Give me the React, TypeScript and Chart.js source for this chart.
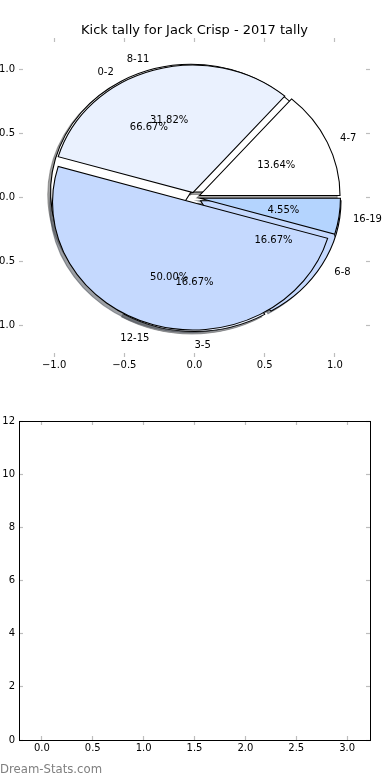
import React, { useEffect, useRef } from 'react';
import { Chart, registerables } from 'chart.js';

Chart.register(...registerables);

// ---------- data ----------
const TITLE = 'Kick tally for Jack Crisp - 2017 tally';
const PIE_A_LABELS = ['4-7', '8-11', '12-15', '16-19'];
const PIE_A_VALUES = [3, 7, 11, 1];
const PIE_A_EXPLODE = [0.04, 0.04, 0.04, 0.04];
const PIE_B_LABELS = ['0-2', '3-5', '6-8'];
const PIE_B_VALUES = [4, 1, 1];
const PIE_B_EXPLODE = [0.05, 0.05, 0.05];
const SLICE_COLORS = ['#ffffff', '#eaf1fe', '#c5d9fe', '#b4d4fe'];
const PIE_TICKS = [-1, -0.5, 0, 0.5, 1];
const PIE_LIM = 1.25;
const BOTTOM_X_TICKS = [0, 0.5, 1, 1.5, 2, 2.5, 3];
const BOTTOM_Y_TICKS = [0, 2, 4, 6, 8, 10, 12];
const BOTTOM_X_RANGE = [-0.225, 3.225];
const BOTTOM_Y_RANGE = [0, 12];
const WATERMARK = 'Dream-Stats.com';

// ---------- style ----------
const FONT = "'DejaVu Sans', sans-serif";
const TICK_COLOR = '#bdbdbd';
const W = 390;
const TOP_H = 400;
const BOT_H = 380;
const AX_LEFT = 19;
const AX_RIGHT = 370;
const TOP_AX_TOP = 38;
const TOP_AX_BOTTOM = 357;
const BOT_AX_TOP = 21; // within bottom canvas (page y 421)
const BOT_AX_BOTTOM = 340; // within bottom canvas (page y 740)
const X_AXIS_H = 30;
const TEXT_DY = 1.5;

const fmt1 = (v: number) => {
  const s = Math.abs(v) < 1e-9 ? '0.0' : Number(v).toFixed(1);
  return s.replace('-', '\u2212');
};
const fmt0 = (v: number) => String(Math.round(v)).replace('-', '\u2212');

function makeAxis(
  axis: 'x' | 'y',
  position: string,
  range: number[],
  ticks: number[],
  fmt: (v: number) => string,
  showLabels: boolean,
  size: number,
  border: boolean
) {
  return {
    type: 'linear',
    axis,
    position,
    min: range[0],
    max: range[1],
    afterBuildTicks: (s: any) => {
      s.ticks = ticks.map((v) => ({ value: v }));
    },
    afterFit: (s: any) => {
      if (axis === 'x') s.height = size;
      else s.width = size;
    },
    grid: {
      display: true,
      drawOnChartArea: false,
      drawTicks: true,
      tickLength: -4,
      tickColor: TICK_COLOR,
      tickWidth: 1.2,
      color: TICK_COLOR,
    },
    border: { display: border, color: '#000000', width: 1 },
    ticks: {
      display: showLabels,
      padding: axis === 'x' ? 6 : 8,
      color: '#000000',
      autoSkip: false,
      maxRotation: 0,
      font: { family: FONT, size: 10 },
      callback: (v: any) => fmt(Number(v)),
    },
  };
}

function shadowColor(hex: string) {
  const n = parseInt(hex.slice(1), 16);
  const r = Math.round(((n >> 16) & 255) * 0.3);
  const g = Math.round(((n >> 8) & 255) * 0.3);
  const b = Math.round((n & 255) * 0.3);
  return `rgba(${r},${g},${b},0.5)`;
}

function pieGeom(chart: any) {
  const ca = chart.chartArea;
  const cx = (ca.left + ca.right) / 2;
  const cy = (ca.top + ca.bottom) / 2;
  const R = (ca.bottom - ca.top) / 2 / PIE_LIM;
  const Rx = (ca.right - ca.left) / 2 / PIE_LIM;
  return { cx, cy, R, sx: Rx / R };
}

const PIE_INFO = [
  { labels: PIE_A_LABELS, values: PIE_A_VALUES, explode: PIE_A_EXPLODE, colors: SLICE_COLORS.slice(0, PIE_A_VALUES.length) },
  { labels: PIE_B_LABELS, values: PIE_B_VALUES, explode: PIE_B_EXPLODE, colors: SLICE_COLORS.slice(0, PIE_B_VALUES.length) },
];

const mplPiePlugin = {
  id: 'mplPie',
  afterDatasetUpdate(chart: any, args: any) {
    const { cx, cy, R } = pieGeom(chart);
    const info = PIE_INFO[args.index];
    args.meta.data.forEach((arc: any, i: number) => {
      const mid = (arc.startAngle + arc.endAngle) / 2;
      const d = info.explode[i] * R;
      arc.x = cx + Math.cos(mid) * d;
      arc.y = cy + Math.sin(mid) * d;
      arc.innerRadius = 0;
      arc.outerRadius = R;
    });
  },
  beforeDatasetsDraw(chart: any) {
    const ctx = chart.ctx;
    const { cx, cy, R, sx } = pieGeom(chart);
    ctx.save();
    ctx.translate(cx, cy);
    ctx.scale(sx, -1);
    ctx.translate(-cx, -cy);
    // shadows (below every wedge), offset (-0.02, -0.02) in data units
    const off = 0.02 * R;
    [1, 0].forEach((k) => {
      const meta = chart.getDatasetMeta(k);
      meta.data.forEach((arc: any, i: number) => {
        const x = arc.x - off;
        const y = arc.y - off;
        ctx.beginPath();
        ctx.moveTo(x, y);
        ctx.arc(x, y, arc.outerRadius, arc.startAngle, arc.endAngle);
        ctx.closePath();
        const c = shadowColor(PIE_INFO[k].colors[i]);
        ctx.fillStyle = c;
        ctx.fill();
        ctx.strokeStyle = c;
        ctx.lineWidth = 1;
        ctx.stroke();
      });
    });
  },
  afterDatasetsDraw(chart: any) {
    const ctx = chart.ctx;
    ctx.restore();
    const { cx, cy, R, sx } = pieGeom(chart);
    ctx.save();
    ctx.fillStyle = '#000000';
    ctx.font = `10px ${FONT}`;
    ctx.textBaseline = 'middle';
    [1, 0].forEach((k) => {
      const info = PIE_INFO[k];
      const total = info.values.reduce((a, b) => a + b, 0);
      const meta = chart.getDatasetMeta(k);
      meta.data.forEach((arc: any, i: number) => {
        const mid = (arc.startAngle + arc.endAngle) / 2;
        const toScreen = (dist: number) => {
          const px = arc.x + Math.cos(mid) * R * dist;
          const py = arc.y + Math.sin(mid) * R * dist;
          return [cx + sx * (px - cx), cy - (py - cy) + TEXT_DY];
        };
        const [lx, ly] = toScreen(1.1);
        ctx.textAlign = lx >= cx - 0.5 ? 'left' : 'right';
        ctx.fillText(info.labels[i], lx, ly);
        const [tx, ty] = toScreen(0.6);
        ctx.textAlign = 'center';
        ctx.fillText(((info.values[i] / total) * 100).toFixed(2) + '%', tx, ty);
      });
    });
    ctx.restore();
  },
};

export default function App() {
  const axRef = useRef<HTMLCanvasElement>(null);
  const pieRef = useRef<HTMLCanvasElement>(null);
  const botRef = useRef<HTMLCanvasElement>(null);

  useEffect(() => {
    const titleLine = 13 * 1.2;
    const titleTop = 22.5;
    const axesChart = new Chart(axRef.current as HTMLCanvasElement, {
      type: 'scatter',
      data: { datasets: [] },
      options: {
        animation: false,
        responsive: false,
        events: [],
        layout: {
          padding: { left: 0, right: W - AX_RIGHT, top: TOP_AX_TOP, bottom: TOP_H - TOP_AX_BOTTOM - X_AXIS_H },
        },
        plugins: { legend: { display: false }, tooltip: { enabled: false }, title: { display: false } },
        scales: {
          x: makeAxis('x', 'bottom', [-PIE_LIM, PIE_LIM], PIE_TICKS, fmt1, true, X_AXIS_H, false),
          x2: makeAxis('x', 'top', [-PIE_LIM, PIE_LIM], PIE_TICKS, fmt1, false, 0, false),
          y: makeAxis('y', 'left', [-PIE_LIM, PIE_LIM], PIE_TICKS, fmt1, true, AX_LEFT, false),
          y2: makeAxis('y', 'right', [-PIE_LIM, PIE_LIM], PIE_TICKS, fmt1, false, 0, false),
        },
      } as any,
    });

    const pieChart = new Chart(pieRef.current as HTMLCanvasElement, {
      type: 'pie',
      data: {
        labels: [...PIE_A_LABELS, ...PIE_B_LABELS],
        datasets: [
          {
            data: PIE_A_VALUES,
            backgroundColor: PIE_INFO[0].colors,
            borderColor: '#000000',
            borderWidth: 1,
            borderJoinStyle: 'miter',
          },
          {
            data: PIE_B_VALUES,
            backgroundColor: PIE_INFO[1].colors,
            borderColor: '#000000',
            borderWidth: 1,
            borderJoinStyle: 'miter',
          },
        ],
      },
      options: {
        animation: false,
        responsive: false,
        events: [],
        rotation: 90,
        layout: {
          padding: { left: AX_LEFT, right: W - AX_RIGHT, top: 0, bottom: TOP_H - TOP_AX_BOTTOM },
        },
        plugins: {
          legend: { display: false },
          tooltip: { enabled: false },
          title: {
            display: true,
            text: TITLE,
            color: '#000000',
            font: { family: FONT, size: 13, weight: 'normal' },
            padding: { top: titleTop, bottom: TOP_AX_TOP - titleTop - titleLine },
          },
        },
      } as any,
      plugins: [mplPiePlugin as any],
    });

    const bottomChart = new Chart(botRef.current as HTMLCanvasElement, {
      type: 'scatter',
      data: { datasets: [] },
      options: {
        animation: false,
        responsive: false,
        events: [],
        layout: {
          padding: { left: 0, right: W - AX_RIGHT, top: BOT_AX_TOP, bottom: BOT_H - BOT_AX_BOTTOM - X_AXIS_H },
        },
        plugins: { legend: { display: false }, tooltip: { enabled: false } },
        scales: {
          x: makeAxis('x', 'bottom', BOTTOM_X_RANGE, BOTTOM_X_TICKS, fmt1, true, X_AXIS_H, true),
          x2: makeAxis('x', 'top', BOTTOM_X_RANGE, BOTTOM_X_TICKS, fmt1, false, 0, true),
          y: makeAxis('y', 'left', BOTTOM_Y_RANGE, BOTTOM_Y_TICKS, fmt0, true, AX_LEFT, true),
          y2: makeAxis('y', 'right', BOTTOM_Y_RANGE, BOTTOM_Y_TICKS, fmt0, false, 0, true),
        },
      } as any,
    });

    return () => {
      axesChart.destroy();
      pieChart.destroy();
      bottomChart.destroy();
    };
  }, []);

  const canvasStyle = (top: number, h: number): React.CSSProperties => ({
    position: 'absolute',
    left: 0,
    top,
    width: W,
    height: h,
  });

  return (
    <div style={{ position: 'absolute', left: 0, top: 0, width: W, height: 780, background: '#ffffff', overflow: 'hidden' }}>
      <canvas ref={axRef} width={W} height={TOP_H} style={canvasStyle(0, TOP_H)} />
      <canvas ref={pieRef} width={W} height={TOP_H} style={canvasStyle(0, TOP_H)} />
      <canvas ref={botRef} width={W} height={BOT_H} style={canvasStyle(TOP_H, BOT_H)} />
      <div
        style={{
          position: 'absolute',
          left: 0,
          top: 764,
          fontFamily: FONT,
          fontSize: 11.7,
          lineHeight: '11.7px',
          color: '#7f7f7f',
          whiteSpace: 'nowrap',
        }}
      >
        {WATERMARK}
      </div>
    </div>
  );
}
